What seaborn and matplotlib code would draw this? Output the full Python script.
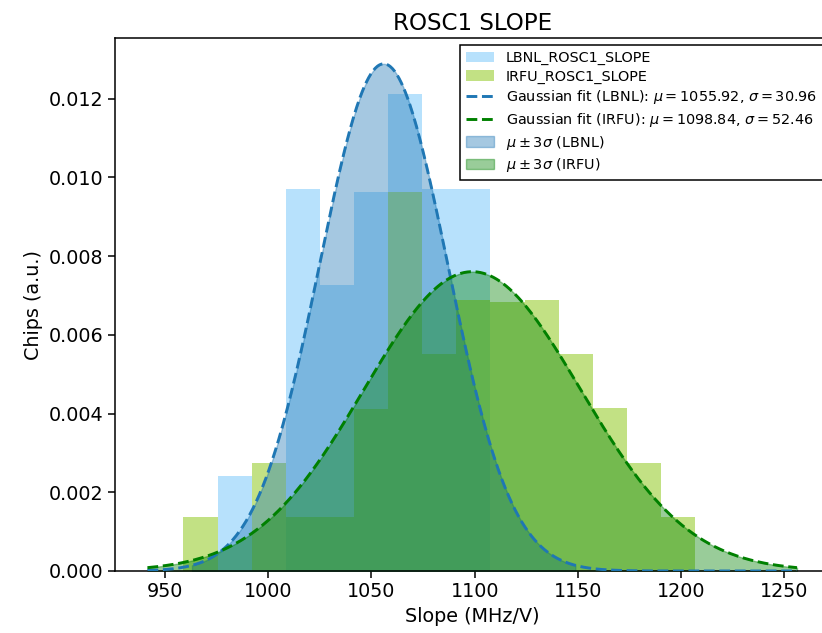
import numpy as np
import pandas as pd
import matplotlib
matplotlib.use("Agg")
import matplotlib.pyplot as plt
import seaborn as sns

# Shared histogram bin edges (MHz/V)
bin_edges = [958.9, 975.4, 992.0, 1008.5, 1025.0, 1041.5, 1058.1, 1074.6,
             1091.1, 1107.6, 1124.2, 1140.7, 1157.2, 1173.7, 1190.3, 1206.8]
# Chip counts per bin
lbnl_counts = [0, 1, 0, 4, 3, 4, 5, 4, 4, 0, 0, 0, 0, 0, 0]
irfu_counts = [1, 0, 2, 1, 1, 3, 7, 4, 5, 5, 5, 4, 3, 2, 1]

# Gaussian fit parameters
lbnl_mu, lbnl_sigma = 1055.92, 30.96
irfu_mu, irfu_sigma = 1098.84, 52.46

edges = np.array(bin_edges)
centers = 0.5 * (edges[:-1] + edges[1:])
df_lbnl = pd.DataFrame({"slope": centers, "n": lbnl_counts})
df_irfu = pd.DataFrame({"slope": centers, "n": irfu_counts})

plt.rcParams.update({
    "font.size": 13.8,
    "axes.titlesize": 16.6,
    "axes.linewidth": 1.1,
    "xtick.major.width": 1.1,
    "ytick.major.width": 1.1,
    "xtick.major.size": 4.8,
    "ytick.major.size": 4.8,
})

fig = plt.figure(figsize=(8.22, 6.33), dpi=100)
ax = fig.add_axes([0.1399, 0.098, 1.0091 - 0.1399, 0.9392 - 0.098])

sns.histplot(data=df_lbnl, x="slope", weights="n", bins=list(bin_edges), stat="density",
             color="lightskyblue", alpha=0.6, edgecolor="none", linewidth=0, ax=ax)
n_lbnl_patches = len(ax.patches)
sns.histplot(data=df_irfu, x="slope", weights="n", bins=list(bin_edges), stat="density",
             color="yellowgreen", alpha=0.6, edgecolor="none", linewidth=0, ax=ax)


def gauss(x, mu, sigma):
    return np.exp(-0.5 * ((x - mu) / sigma) ** 2) / (sigma * np.sqrt(2 * np.pi))


lo = min(lbnl_mu - 3 * lbnl_sigma, irfu_mu - 3 * irfu_sigma)
hi = max(lbnl_mu + 3 * lbnl_sigma, irfu_mu + 3 * irfu_sigma)
xs = np.linspace(lo, hi, 600)

fits = [
    (lbnl_mu, lbnl_sigma, "tab:blue", "LBNL"),
    (irfu_mu, irfu_sigma, "green", "IRFU"),
]
line_handles, fill_handles = [], []
for mu, sigma, col, name in fits:
    sns.lineplot(x=xs, y=gauss(xs, mu, sigma), color=col, linestyle="--",
                 linewidth=2.1, ax=ax, zorder=3)
    line_handles.append(ax.lines[-1])
for mu, sigma, col, name in fits:
    xf = np.linspace(mu - 3 * sigma, mu + 3 * sigma, 400)
    fill_handles.append(ax.fill_between(xf, gauss(xf, mu, sigma), color=col,
                                        alpha=0.4, zorder=2))

bars = [ax.patches[0], ax.patches[n_lbnl_patches]]
handles = bars + line_handles + fill_handles
labels = [
    "LBNL_ROSC1_SLOPE",
    "IRFU_ROSC1_SLOPE",
    rf"Gaussian fit (LBNL): $\mu = {lbnl_mu:.2f}$, $\sigma = {lbnl_sigma:.2f}$",
    rf"Gaussian fit (IRFU): $\mu = {irfu_mu:.2f}$, $\sigma = {irfu_sigma:.2f}$",
    r"$\mu \pm 3\sigma$ (LBNL)",
    r"$\mu \pm 3\sigma$ (IRFU)",
]
leg = ax.legend(handles, labels, loc="upper right", fontsize=10.4,
                labelspacing=0.32, borderaxespad=0.45,
                fancybox=False, edgecolor="black", framealpha=1)
leg.get_frame().set_linewidth(1.1)

ax.set_title("ROSC1 SLOPE")
ax.set_xlabel("Slope (MHz/V)")
ax.set_ylabel("Chips (a.u.)")
ax.set_xticks([950, 1000, 1050, 1100, 1150, 1200, 1250])
ax.set_xlim(lo - 0.05 * (hi - lo), hi + 0.05 * (hi - lo))
ax.set_ylim(0, gauss(lbnl_mu, lbnl_mu, lbnl_sigma) * 1.05)
ax.yaxis.set_major_formatter(matplotlib.ticker.FormatStrFormatter("%.3f"))

fig.savefig("out.png", dpi=100)
